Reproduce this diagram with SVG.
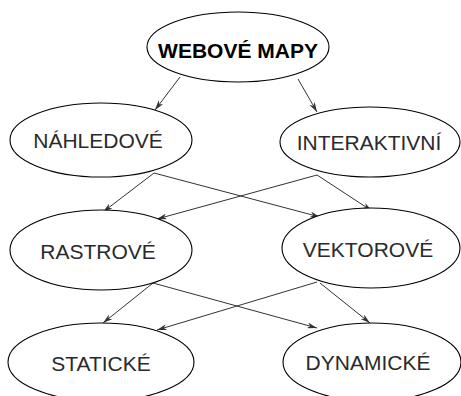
<svg xmlns="http://www.w3.org/2000/svg" width="461" height="396" viewBox="0 0 461 396">
<defs>
<style>
.node ellipse{fill:#fff;stroke:#000;stroke-width:1.1}
.node text{font-family:"Liberation Sans",Arial,sans-serif;font-size:21px;text-anchor:middle;fill:#2a2a2a}
.node text.main{font-weight:bold;fill:#000}
.edges line{stroke:#333;stroke-width:1;marker-end:url(#arr)}
</style>
<marker id="arr" viewBox="0 0 10 6" refX="10" refY="3" markerWidth="10" markerHeight="6" markerUnits="userSpaceOnUse" orient="auto">
<path d="M0,0 L10,3 L0,6 L3,3 Z" fill="#333"/>
</marker>
</defs>
<rect width="461" height="396" fill="#fff"/>
<g class="edges">
<line x1="180" y1="77" x2="155" y2="110"/>
<line x1="298" y1="79" x2="317" y2="112"/>
<line x1="154" y1="173" x2="103" y2="212"/>
<line x1="154" y1="173" x2="320" y2="217"/>
<line x1="317" y1="175" x2="157" y2="219"/>
<line x1="317" y1="175" x2="372" y2="211"/>
<line x1="153" y1="283" x2="103" y2="323"/>
<line x1="153" y1="283" x2="317" y2="328"/>
<line x1="317" y1="282" x2="157" y2="330"/>
<line x1="320" y1="283" x2="370" y2="323"/>
</g>
<g id="webove-mapy" class="node">
<ellipse cx="238" cy="47" rx="91" ry="35"/>
<text class="main" x="238" y="58">WEBOVÉ MAPY</text>
</g>
<g id="nahledove" class="node">
<ellipse cx="101" cy="140" rx="91" ry="37"/>
<text x="98" y="148">NÁHLEDOVÉ</text>
</g>
<g id="interaktivni" class="node">
<ellipse cx="370" cy="142" rx="90" ry="35"/>
<text x="369" y="150">INTERAKTIVNÍ</text>
</g>
<g id="rastrove" class="node">
<ellipse cx="101" cy="250" rx="91" ry="40"/>
<text x="98" y="259">RASTROVÉ</text>
</g>
<g id="vektorove" class="node">
<ellipse cx="371" cy="248" rx="89" ry="40"/>
<text x="368" y="257">VEKTOROVÉ</text>
</g>
<g id="staticke" class="node">
<ellipse cx="101" cy="362" rx="93" ry="39"/>
<text x="101" y="371">STATICKÉ</text>
</g>
<g id="dynamicke" class="node">
<ellipse cx="372" cy="362" rx="89" ry="39"/>
<text x="368" y="370">DYNAMICKÉ</text>
</g>
</svg>
